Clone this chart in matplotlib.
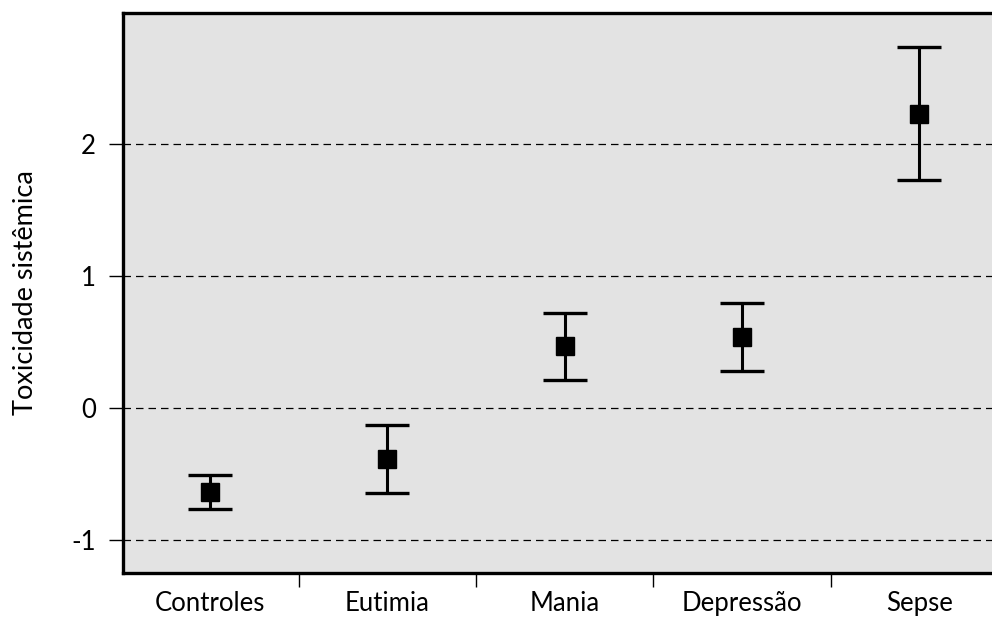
import matplotlib
matplotlib.use("Agg")
import matplotlib.pyplot as plt
import numpy as np

categories = ["Controles", "Eutimia", "Mania", "Depressão", "Sepse"]
means = [-0.634, -0.386, 0.467, 0.536, 2.225]
lower = [-0.765, -0.642, 0.210, 0.280, 1.727]
upper = [-0.510, -0.129, 0.722, 0.793, 2.732]
yticks = [-1, 0, 1, 2]
ylabel = "Toxicidade sistêmica"

plt.rcParams['font.family'] = ['Lato', 'DejaVu Sans']

fig = plt.figure(figsize=(9.92, 6.17), dpi=100)
ax = fig.add_axes([123/992, 44/617, 1 - 123/992, (573 - 13)/617])
ax.set_facecolor("#e3e3e3")

x = np.arange(len(categories))
m = np.array(means)
yerr = np.vstack([m - np.array(lower), np.array(upper) - m])
ax.errorbar(x, m, yerr=yerr, fmt='s', color='black', markersize=13.5,
            elinewidth=2.2, capsize=16, capthick=2.4, zorder=3)

ax.set_xlim(-0.49, 4.41)
ax.set_ylim(-1.25, 2.992)
ax.set_yticks(yticks)
ax.set_yticklabels([str(t) for t in yticks])
for t in yticks:
    ax.axhline(t, color='black', lw=0.9, ls=(0, (6, 4)), zorder=1)

ax.set_xticks(x)
ax.set_xticklabels(categories)
ax.set_xticks(x[:-1] + 0.5, minor=True)
ax.tick_params(axis='x', which='major', length=0, pad=13, labelsize=18.5)
ax.tick_params(axis='x', which='minor', length=10, width=1.0, direction='out')
ax.tick_params(axis='y', which='major', length=10, width=1.0, pad=9.5, labelsize=18.5)

for s in ['left', 'bottom', 'top']:
    ax.spines[s].set_linewidth(2.4)
ax.spines['right'].set_visible(False)

ax.set_ylabel(ylabel, fontsize=19.5, labelpad=24)

fig.savefig("out.png", dpi=100)
